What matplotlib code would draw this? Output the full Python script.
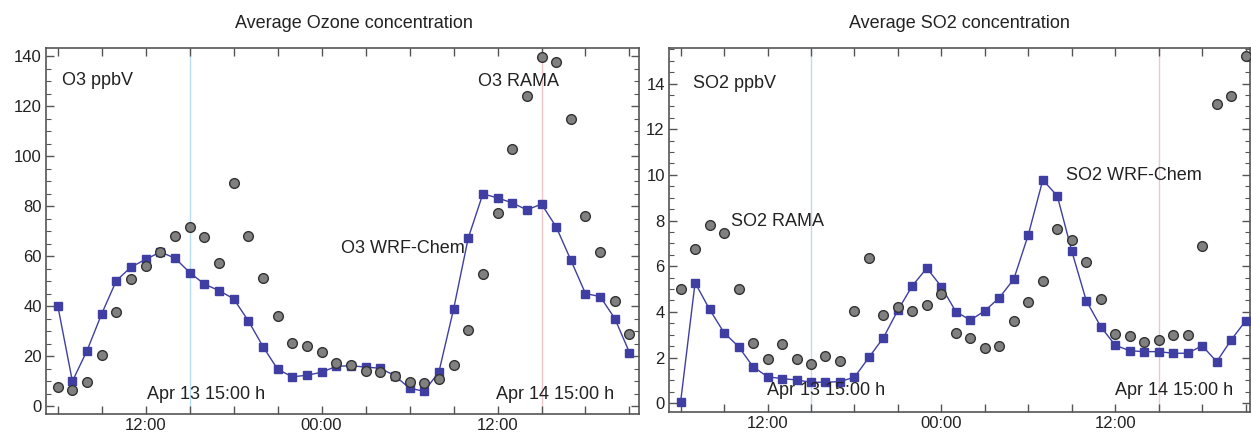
import matplotlib
matplotlib.use("Agg")
import matplotlib.pyplot as plt
from matplotlib.ticker import FixedLocator, MultipleLocator

plt.rcParams['font.family'] = ['Liberation Sans', 'DejaVu Sans']

# hours since Apr 13 06:00
hours = list(range(40))
xtick_pos = [6, 18, 30]
xtick_labels = ["12:00", "00:00", "12:00"]
xminor_pos = list(range(0, 40, 3))
line_apr13 = 9
line_apr14 = 33

o3_rama = [7.6, 6.7, 9.9, 20.6, 37.9, 50.9, 56.2, 61.6, 68.1, 71.8,
           67.7, 57.3, 89.2, 68.2, 51.5, 36.2, 25.4, 24.2, 21.7, 17.3,
           16.4, 14.2, 13.8, 12.0, 9.7, 9.3, 10.9, 16.4, 30.6, 52.8,
           77.3, 102.8, 124.3, 139.9, 137.9, 115.0, 76.1, 61.8, 42.3, 29.0]
o3_wrf = [40.3, 10.0, 22.3, 37.0, 50.3, 55.7, 58.8, 61.7, 59.3, 53.5,
          48.9, 46.3, 43.0, 34.2, 23.9, 14.8, 11.8, 12.4, 13.6, 16.0,
          16.2, 15.7, 15.2, 12.2, 7.2, 6.0, 13.7, 38.8, 67.3, 85.0,
          83.4, 81.4, 78.6, 80.9, 71.8, 58.5, 45.1, 43.9, 35.1, 21.5]

so2_rama = [5.0, 6.76, 7.79, 7.47, 5.0, 2.65, 1.92, 2.59, 1.92, 1.70,
            2.05, 1.86, 4.05, 6.34, 3.86, 4.23, 4.05, 4.29, 4.77, 3.09,
            2.87, 2.43, 2.49, 3.60, 4.43, 5.34, 7.61, 7.17, 6.17, 4.56,
            3.03, 2.93, 2.70, 2.76, 2.99, 3.00, 6.90, 13.09, 13.44, 15.21]
so2_wrf = [0.05, 5.28, 4.11, 3.09, 2.48, 1.60, 1.16, 1.08, 1.02, 0.92,
           0.92, 0.95, 1.14, 2.01, 2.87, 4.08, 5.15, 5.92, 5.10, 4.01,
           3.64, 4.05, 4.62, 5.44, 7.38, 9.78, 9.08, 6.66, 4.49, 3.35,
           2.54, 2.30, 2.26, 2.26, 2.19, 2.19, 2.52, 1.82, 2.77, 3.61]

W, H = 1251, 433
fig = plt.figure(figsize=(W / 100, H / 100), dpi=100)

frame_col = '#555555'
text_col = '#222222'
sq_col = '#3f3fa3'
circ_face = '#808080'
circ_edge = '#333333'


def setup(ax, ymajor, yminor, ylim, title, title_x):
    ax.set_xlim(-0.8, 39.65)
    ax.set_ylim(*ylim)
    ax.xaxis.set_major_locator(FixedLocator(xtick_pos))
    ax.set_xticklabels(xtick_labels)
    ax.xaxis.set_minor_locator(FixedLocator([p for p in xminor_pos if p not in xtick_pos]))
    ax.yaxis.set_major_locator(MultipleLocator(ymajor))
    ax.yaxis.set_minor_locator(MultipleLocator(yminor))
    ax.tick_params(axis='both', which='both', direction='in', top=True, right=True,
                   color=frame_col, labelcolor=text_col, labelsize=12)
    ax.tick_params(axis='x', which='both', length=6, width=1, pad=3)
    ax.tick_params(axis='y', which='major', length=6, width=1, pad=3)
    ax.tick_params(axis='y', which='minor', length=3.5, width=0.8)
    for s in ax.spines.values():
        s.set_color(frame_col)
        s.set_linewidth(1.2)
    ax.set_title(title, fontsize=13, color=text_col, pad=14, x=title_x)


def draw(ax, rama, wrf):
    ax.axvline(line_apr13, color='#b8dcf2', lw=1.0, zorder=1)
    ax.axvline(line_apr14, color='#f2c4cc', lw=1.0, zorder=1)
    ax.plot(hours, wrf, color=sq_col, lw=1.0, marker='s', markersize=6.2,
            markerfacecolor=sq_col, markeredgecolor=sq_col, zorder=3, clip_on=False)
    ax.plot(hours, rama, linestyle='none', marker='o', markersize=7,
            markerfacecolor=circ_face, markeredgecolor=circ_edge, markeredgewidth=1.0,
            zorder=4, clip_on=False)


fs = 13

ax1 = fig.add_axes([46 / W, 1 - 413.5 / H, (639 - 46) / W, (413.5 - 47.7) / H])
setup(ax1, 20, 5, (-2.9, 143.5), "Average Ozone concentration", 0.52)
draw(ax1, o3_rama, o3_wrf)
ax1.text(0.3, 130.3, "O3 ppbV", fontsize=fs, color=text_col, va='center')
ax1.text(28.7, 129.9, "O3 RAMA", fontsize=fs, color=text_col, va='center')
ax1.text(19.3, 63.3, "O3 WRF-Chem", fontsize=fs, color=text_col, va='center')
ax1.text(6.1, 4.7, "Apr 13 15:00 h", fontsize=fs, color=text_col, va='center')
ax1.text(29.9, 4.7, "Apr 14 15:00 h", fontsize=fs, color=text_col, va='center')

ax2 = fig.add_axes([669 / W, 1 - 411.7 / H, (1250 - 669) / W, (411.7 - 47.7) / H])
setup(ax2, 2, 0.5, (-0.37, 15.57), "Average SO2 concentration", 0.5)
ax2.set_xlim(-0.8, 39.3)
draw(ax2, so2_rama, so2_wrf)
ax2.text(0.85, 14.0, "SO2 ppbV", fontsize=fs, color=text_col, va='center')
ax2.text(3.47, 7.97, "SO2 RAMA", fontsize=fs, color=text_col, va='center')
ax2.text(26.6, 9.99, "SO2 WRF-Chem", fontsize=fs, color=text_col, va='center')
ax2.text(5.95, 0.58, "Apr 13 15:00 h", fontsize=fs, color=text_col, va='center')
ax2.text(29.95, 0.58, "Apr 14 15:00 h", fontsize=fs, color=text_col, va='center')

fig.savefig("out.png", dpi=100)
